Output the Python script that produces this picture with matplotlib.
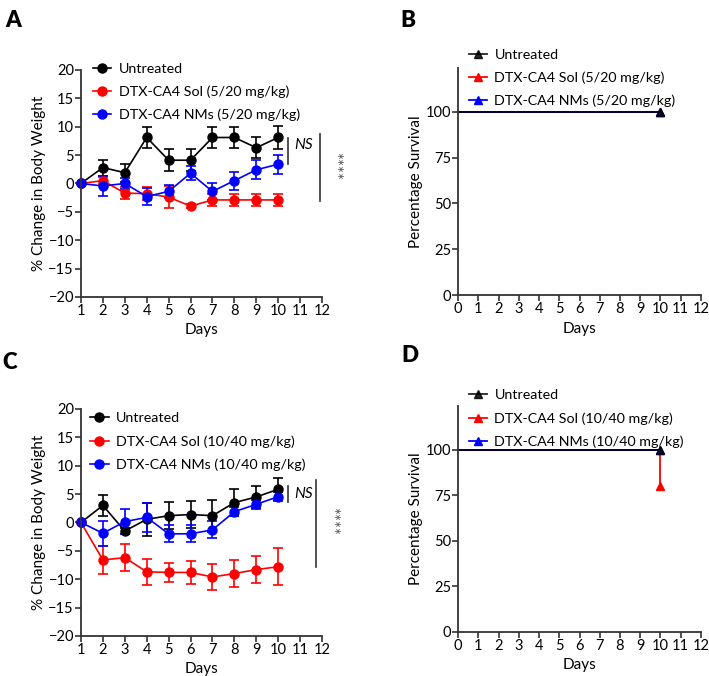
import matplotlib
matplotlib.use("Agg")
import matplotlib.pyplot as plt

plt.rcParams['font.family'] = ['Lato', 'DejaVu Sans']
plt.rcParams['font.size'] = 10

# Body weight change, low dose (panel A)
daysW = [1, 2, 3, 4, 5, 6, 7, 8, 9, 10]
untreatedA = [0, 2.8, 1.9, 8.1, 4.1, 4.1, 8.1, 8.1, 6.3, 8.1]
untreatedA_err = [0, 1.4, 1.6, 1.9, 1.9, 1.9, 1.9, 1.8, 1.9, 2.1]
solA = [0, 0.5, -1.7, -1.8, -2.4, -4.0, -2.9, -2.9, -2.9, -2.9]
solA_err = [0, 0.6, 1.1, 1.1, 2.0, 0.3, 1.1, 1.1, 1.1, 1.1]
nmsA = [0, -0.45, 0.0, -2.3, -1.4, 1.8, -1.4, 0.5, 2.4, 3.4]
nmsA_err = [0, 1.8, 1.0, 1.5, 1.1, 1.2, 1.5, 1.6, 1.7, 1.7]

# Body weight change, high dose (panel C)
untreatedC = [0, 3.0, -1.5, 0.55, 1.2, 1.4, 1.2, 3.5, 4.5, 5.85]
untreatedC_err = [0, 1.8, 0.6, 2.9, 2.4, 2.3, 2.8, 2.4, 2.0, 1.9]
solC = [0, -6.6, -6.2, -8.7, -8.8, -8.8, -9.6, -9.0, -8.3, -7.8]
solC_err = [0, 2.4, 2.35, 2.3, 1.65, 2.0, 2.3, 2.4, 2.4, 3.3]
nmsC = [0, -1.9, 0.15, 0.9, -2.0, -2.0, -1.3, 1.9, 3.2, 4.55]
nmsC_err = [0, 2.2, 2.2, 2.5, 1.5, 1.5, 1.5, 0.8, 0.8, 0.8]

# Survival (panels B and D)
daysS = [0, 10]
survUntreated = [100, 100]
survSolB = [100, 100]
survNmsB = [100, 100]
survSolD = [100, 80]
survNmsD = [100, 100]

labelsLow = ["Untreated", "DTX-CA4 Sol (5/20 mg/kg)", "DTX-CA4 NMs (5/20 mg/kg)"]
labelsHigh = ["Untreated", "DTX-CA4 Sol (10/40 mg/kg)", "DTX-CA4 NMs (10/40 mg/kg)"]
colours = ["black", "#ff0000", "#0000ff"]
spineColour = "#333333"
tickSize = 10.5
labelSize = 11
legendSize = 10.3

fig = plt.figure(figsize=(7.09, 6.76), dpi=100)
axA = fig.add_axes([0.1142, 0.5607, 0.340, 0.3358])
axB = fig.add_axes([0.646, 0.5636, 0.3427, 0.3358])
axC = fig.add_axes([0.1142, 0.0592, 0.340, 0.3358])
axD = fig.add_axes([0.646, 0.0651, 0.3427, 0.3343])


def styleAxes(ax):
    for side in ["top", "right"]:
        ax.spines[side].set_visible(False)
    for side in ["left", "bottom"]:
        ax.spines[side].set_linewidth(1.3)
        ax.spines[side].set_color(spineColour)
    ax.tick_params(direction="out", length=4, width=1.2, color=spineColour,
                   labelsize=tickSize, pad=1)


def addLegend(ax, handles, labels, legendTop):
    ax.legend(handles, labels, loc="upper left", bbox_to_anchor=legendTop,
              bbox_transform=fig.transFigure, frameon=False, borderpad=0,
              handlelength=1.3, handletextpad=0.5, labelspacing=0.75, fontsize=legendSize,
              borderaxespad=0)


def weightPanel(ax, series, labels, legendTop, nsSpan, nsY, bigSpan, starY):
    handles = []
    for (vals, errs), col in zip(series, colours):
        h = ax.errorbar(daysW, vals, yerr=errs, color=col, marker="o", markersize=6.5,
                        lw=1.2, elinewidth=1.2, capsize=3.5, capthick=1.2, clip_on=False)
        handles.append(h.lines[0])
    ax.set_xlim(1, 12)
    ax.set_ylim(-20, 20)
    ax.set_xticks(range(1, 13))
    ax.set_yticks(range(-20, 21, 5))
    ax.set_xlabel("Days", fontsize=labelSize, labelpad=4)
    ax.set_ylabel("% Change in Body Weight", fontsize=labelSize, labelpad=2)
    styleAxes(ax)
    # significance markers
    ax.plot([10.45, 10.45], nsSpan, color="#333333", lw=1.2, clip_on=False)
    ax.text(10.75, nsY, "NS", style="italic", fontsize=11, va="center", ha="left")
    ax.plot([bigSpan[0], bigSpan[0]], bigSpan[1:], color="#333333", lw=1.2, clip_on=False)
    ax.text(bigSpan[0] + 0.3, starY, "****", rotation=270, fontsize=12, color="#555555",
            va="center", ha="left")
    addLegend(ax, handles, labels, legendTop)


def survivalPanel(ax, survSol, survNms, labels, legendTop):
    hs = ax.plot(daysS, survSol, color=colours[1], drawstyle="steps-post", lw=1.3,
                 marker="^", markersize=6, markevery=[1], clip_on=False)[0]
    hn = ax.plot(daysS, survNms, color=colours[2], drawstyle="steps-post", lw=1.3,
                 marker="^", markersize=6, markevery=[1], clip_on=False)[0]
    hu = ax.plot(daysS, survUntreated, color=colours[0], drawstyle="steps-post", lw=1.3,
                 marker="^", markersize=6, markevery=[1], clip_on=False, alpha=0.85)[0]
    ax.set_xlim(0, 12)
    ax.set_ylim(0, 124)
    ax.set_xticks(range(0, 13))
    ax.set_yticks([0, 25, 50, 75, 100])
    ax.set_xlabel("Days", fontsize=labelSize, labelpad=4)
    ax.set_ylabel("Percentage Survival", fontsize=labelSize, labelpad=2)
    styleAxes(ax)
    addLegend(ax, [hu, hs, hn], labels, legendTop)


weightPanel(axA, [(untreatedA, untreatedA_err), (solA, solA_err), (nmsA, nmsA_err)],
            labelsLow, (0.131, 0.907), [3.5, 8.0], 6.8, [11.9, 8.7, -3.1], 3.1)
weightPanel(axC, [(untreatedC, untreatedC_err), (solC, solC_err), (nmsC, nmsC_err)],
            labelsHigh, (0.127, 0.390), [3.6, 6.4], 5.0, [11.73, 7.5, -7.8], 0.2)
survivalPanel(axB, survSolB, survNmsB, labelsLow, (0.661, 0.928))
survivalPanel(axD, survSolD, survNmsD, labelsHigh, (0.661, 0.424))

for txt, x, y in [("A", 0.008, 0.985), ("B", 0.564, 0.985), ("C", 0.004, 0.48), ("D", 0.566, 0.49)]:
    fig.text(x, y, txt, fontsize=16, fontweight="heavy", va="top", ha="left")

fig.savefig("out.png", dpi=100)
